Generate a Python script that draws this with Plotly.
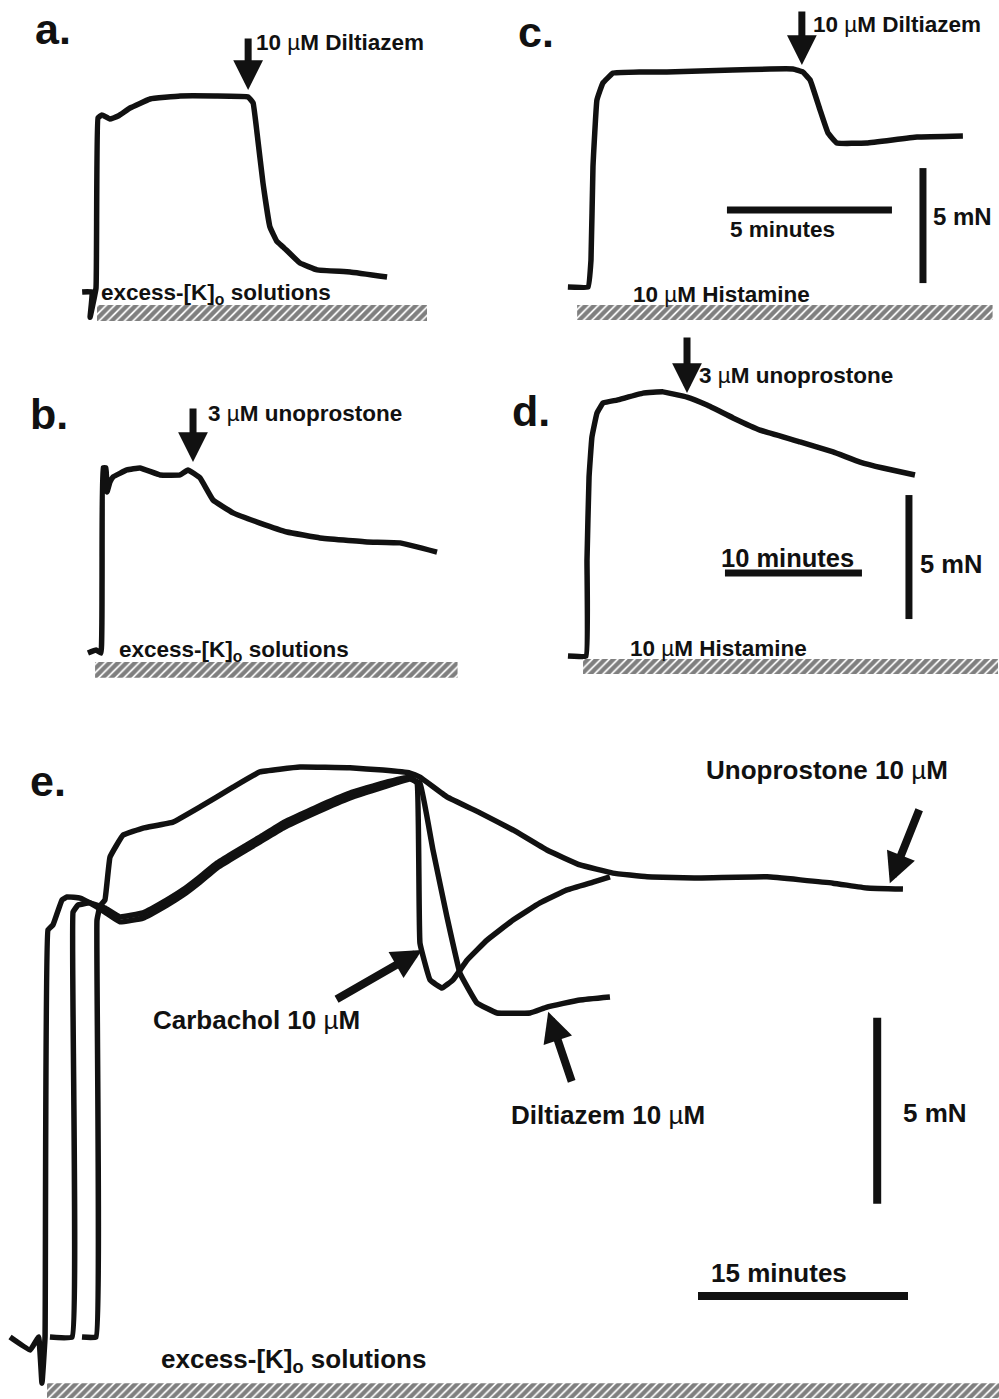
import plotly.graph_objects as go

W, H = 999, 1399

# ---------------- data (time in minutes, tension in mN) ----------------
# panel a: excess-[K]o contraction, 10 uM diltiazem
a_time = [-0.45, -0.15, -0.21, -0.03, 0.03, 0.15, 0.39, 0.64, 1.0, 1.61, 2.52, 3.58,
          4.58, 4.73, 4.85, 5.03, 5.24, 5.45, 5.64, 6.15, 6.67, 7.67, 8.79]
a_tension = [0, 0, -1.1, 0.17, 7.57, 7.7, 7.52, 7.65, 8.0, 8.39, 8.52, 8.52,
             8.48, 8.22, 6.91, 4.74, 2.83, 2.2, 1.96, 1.26, 0.96, 0.87, 0.65]
a_drug = (4.58, 8.78)
a_exposure = (0.0, 10.0)

# panel b: excess-[K]o contraction, 3 uM unoprostone
b_time = [-0.88, -0.29, 0.07, 0.22, 0.44, 0.51, 0.73, 0.95, 1.97, 2.92, 4.38, 5.84,
          6.42, 7.30, 8.25, 9.71, 11.68, 13.65, 16.06, 19.49, 21.9, 24.6]
b_tension = [0, 0.12, 0, 7.46, 7.46, 6.49, 6.9, 7.1, 7.38, 7.46, 7.18, 7.18,
             7.38, 7.06, 6.17, 5.65, 5.24, 4.88, 4.64, 4.48, 4.44, 4.07]
b_drug = (6.79, 7.7)
b_exposure = (-0.36, 26.1)

# panel c: 10 uM histamine contraction, 10 uM diltiazem
c_time = [-0.67, -0.06, 0.03, 0.09, 0.21, 0.39, 0.70, 1.52, 2.33, 3.33, 4.33, 5.45,
          6.15, 6.45, 6.67, 6.97, 7.21, 7.48, 8.39, 9.91, 11.3]
c_tension = [0, 0, 1.17, 5.22, 8.13, 8.87, 9.30, 9.35, 9.35, 9.39, 9.43, 9.48,
             9.48, 9.35, 9.0, 7.7, 6.70, 6.26, 6.26, 6.52, 6.57]
c_drug = (6.42, 9.65)
c_exposure = (-0.39, 12.2)

# panel d: 10 uM histamine contraction, 3 uM unoprostone
d_time = [-1.39, -0.07, 0.0, 0.15, 0.36, 0.73, 1.17, 2.19, 4.09, 5.55, 7.30, 8.76,
          10.66, 12.63, 15.55, 17.96, 19.93, 21.6, 23.94]
d_tension = [0, 0, 3.87, 7.22, 8.83, 9.80, 10.2, 10.32, 10.6, 10.65, 10.44, 10.12,
             9.6, 9.11, 8.63, 8.23, 7.82, 7.58, 7.30]
d_drug = (7.3, 10.6)
d_exposure = (-0.29, 30.0)

# panel e: three excess-[K]o contractions superimposed
e_unoprostone_time = [2.5, 3.5, 3.57, 3.79, 4.14, 4.5, 5.43, 6.86, 9.0, 10.93, 13.29,
                      15.21, 18.07, 21.64, 24.0, 25.93, 26.64, 28.57, 30.93, 33.29,
                      35.71, 38.07, 40.43, 42.86, 46.64, 51.43, 56.14, 58.57, 61.14]
e_unoprostone_tension = [0, 0, 11.2, 11.59, 11.75, 12.9, 13.49, 13.68, 13.84, 14.25,
                         14.78, 15.19, 15.32, 15.30, 15.24, 15.16, 15.05, 14.52, 14.09,
                         13.63, 13.09, 12.69, 12.47, 12.37, 12.34, 12.37, 12.2, 12.07,
                         12.04]
e_carbachol_time = [0.21, 1.79, 1.86, 2.21, 3.07, 4.14, 5.21, 6.86, 8.57, 9.71, 10.93,
                    12.14, 13.29, 15.21, 16.86, 19.29, 21.64, 24.0, 25.93, 26.43,
                    26.64, 27.36, 28.21, 29.0, 30.0, 31.43, 33.29, 35.21, 37.14, 39.0,
                    40.21]
e_carbachol_tension = [0, 0, 11.42, 11.61, 11.67, 11.53, 11.29, 11.4, 11.75, 12.02,
                       12.37, 12.74, 13.01, 13.44, 13.82, 14.25, 14.62, 14.89, 15.05,
                       14.89, 10.59, 9.60, 9.38, 9.6, 10.13, 10.67, 11.21, 11.67,
                       12.02, 12.23, 12.37]
e_diltiazem_time = [-2.64, -1.2, -0.6, -0.36, -0.14, 0.07, 0.43, 1.07, 1.43, 2.36,
                    3.07, 4.14, 5.21, 6.86, 8.57, 9.71, 10.93, 12.14, 13.29, 15.21,
                    16.86, 19.29, 21.64, 24.0, 25.93, 26.64, 27.57, 28.57, 29.5, 30.71,
                    32.14, 34.5, 35.71, 38.07, 40.21]
e_diltiazem_tension = [0, -0.35, 0, -1.24, 0, 10.94, 11.08, 11.75, 11.83, 11.8, 11.67,
                       11.42, 11.16, 11.26, 11.61, 11.88, 12.23, 12.61, 12.88, 13.31,
                       13.68, 14.11, 14.49, 14.78, 15.0, 14.89, 13.09, 11.29, 9.78,
                       8.98, 8.71, 8.71, 8.87, 9.06, 9.14]
e_unoprostone_drug = (60.2, 12.2)
e_carbachol_drug = (26.79, 10.4)
e_diltiazem_drug = (35.8, 8.74)
e_exposure = (0.0, 68.3)

scale_minutes = {"c": 5, "d": 10, "e": 15}
scale_mN = {"c": 5, "d": 5, "e": 5}

# ---------------- panel geometry (pixel origin and px per unit) ----------------
geom = {
    "a": dict(x0=97, y0=292, sx=33, sy=23),
    "b": dict(x0=100, y0=653, sx=13.7, sy=24.8),
    "c": dict(x0=590, y0=287, sx=33, sy=23),
    "d": dict(x0=587, y0=656, sx=13.7, sy=24.8),
    "e": dict(x0=47, y0=1337, sx=14, sy=37.2),
}
order = ["a", "b", "c", "d", "e"]
axid = {p: ("" if i == 0 else str(i + 1)) for i, p in enumerate(order)}

fig = go.Figure()
layout_axes = {}
for p in order:
    g = geom[p]
    i = axid[p]
    layout_axes["xaxis" + i] = dict(domain=[0, 1], anchor="y" + i, visible=False,
                                    range=[-g["x0"] / g["sx"], (W - g["x0"]) / g["sx"]],
                                    fixedrange=True)
    layout_axes["yaxis" + i] = dict(domain=[0, 1], anchor="x" + i, visible=False,
                                    range=[(g["y0"] - H) / g["sy"], g["y0"] / g["sy"]],
                                    fixedrange=True)


def xr(p):
    return "x" + axid[p]


def yr(p):
    return "y" + axid[p]


TRACE_W = 5.5


def add_trace(p, t, f):
    fig.add_trace(go.Scatter(x=t, y=f, mode="lines", xaxis=xr(p), yaxis=yr(p),
                             line=dict(color="#111", width=TRACE_W, shape="spline",
                                       smoothing=0.25),
                             hoverinfo="skip", showlegend=False))


def add_bar(p, span, f_top, f_bot):
    t0, t1 = span
    fig.add_trace(go.Scatter(x=[t0, t1, t1, t0, t0], y=[f_top, f_top, f_bot, f_bot, f_top],
                             mode="lines", fill="toself", xaxis=xr(p), yaxis=yr(p),
                             line=dict(width=0, color="rgba(0,0,0,0)"),
                             fillcolor="white",
                             fillpattern=dict(shape="/", fgcolor="black", bgcolor="white",
                                              size=6, solidity=0.7),
                             hoverinfo="skip", showlegend=False))


def add_seg(p, t, f, width=7):
    fig.add_trace(go.Scatter(x=t, y=f, mode="lines", xaxis=xr(p), yaxis=yr(p),
                             line=dict(color="#111", width=width),
                             hoverinfo="skip", showlegend=False))


add_trace("a", a_time, a_tension)
add_trace("b", b_time, b_tension)
add_trace("c", c_time, c_tension)
add_trace("d", d_time, d_tension)
add_trace("e", e_diltiazem_time, e_diltiazem_tension)
add_trace("e", e_carbachol_time, e_carbachol_tension)
add_trace("e", e_unoprostone_time, e_unoprostone_tension)

add_bar("a", a_exposure, -0.57, -1.26)
add_bar("b", b_exposure, -0.36, -1.0)
add_bar("c", c_exposure, -0.78, -1.43)
add_bar("d", d_exposure, -0.12, -0.73)
add_bar("e", e_exposure, -1.24, -1.64)

# scale bars
add_seg("c", [4.15, 4.15 + scale_minutes["c"]], [3.35, 3.35])
add_seg("c", [10.09, 10.09], [0.17, 0.17 + scale_mN["c"]])
add_seg("d", [10.07, 10.07 + scale_minutes["d"]], [3.35, 3.35])
add_seg("d", [23.5, 23.5], [1.49, 1.49 + scale_mN["d"]])
add_seg("e", [46.5, 46.5 + scale_minutes["e"]], [1.1, 1.1], width=8)
add_seg("e", [59.3, 59.3], [3.58, 3.58 + scale_mN["e"]], width=8)

annotations = []


def arrow(p, tip, ax, ay, width=7, size=0.85):
    annotations.append(dict(x=tip[0], y=tip[1], xref=xr(p), yref=yr(p), text="",
                            showarrow=True, ax=ax, ay=ay, arrowhead=2, arrowsize=size,
                            arrowwidth=width, arrowcolor="#111", standoff=0))


arrow("a", a_drug, 0, -53)
arrow("b", b_drug, 0, -55)
arrow("c", c_drug, 0, -55)
arrow("d", d_drug, 0, -57)
arrow("e", e_unoprostone_drug, 30, -75, width=8, size=0.75)
arrow("e", e_carbachol_drug, -87, 50, width=8, size=0.75)
arrow("e", e_diltiazem_drug, 24, 71, width=8, size=0.75)

FONT = "Liberation Sans, Arial, sans-serif"
MU = "µ"


def label(px, py, text, size):
    annotations.append(dict(x=px / W, y=1 - py / H, xref="paper", yref="paper",
                            text=text, showarrow=False, xanchor="left", yanchor="middle",
                            font=dict(family=FONT, size=size, color="#111")))


small = 22.5
big = 25.5
letter = 43

label(33, 29, "<b>a.</b>", letter)
label(28, 414, "<b>b.</b>", letter)
label(516, 32, "<b>c.</b>", letter)
label(510, 411, "<b>d.</b>", letter)
label(28, 781, "<b>e.</b>", letter)

label(254, 42, "<b>10 </b>" + MU + "<b>M Diltiazem</b>", small)
label(811, 25, "<b>10 </b>" + MU + "<b>M Diltiazem</b>", small)
label(206, 413, "<b>3 </b>" + MU + "<b>M unoprostone</b>", small)
label(697, 375, "<b>3 </b>" + MU + "<b>M unoprostone</b>", small)
label(99, 294, "<b>excess-[K]<sub>o</sub> solutions</b>", small)
label(117, 651, "<b>excess-[K]<sub>o</sub> solutions</b>", small)
label(631, 295, "<b>10 </b>" + MU + "<b>M Histamine</b>", small)
label(628, 648, "<b>10 </b>" + MU + "<b>M Histamine</b>", small)
label(728, 230, "<b>5 minutes</b>", small)
label(931, 216, "<b>5 mN</b>", 24)
label(719, 558, "<b>10 minutes</b>", big)
label(918, 564, "<b>5 mN</b>", big)

label(704, 770, "<b>Unoprostone 10 </b>" + MU + "<b>M</b>", 26)
label(151, 1020, "<b>Carbachol 10 </b>" + MU + "<b>M</b>", 26)
label(509, 1115, "<b>Diltiazem 10 </b>" + MU + "<b>M</b>", 26)
label(901, 1113, "<b>5 mN</b>", 26)
label(709, 1273, "<b>15 minutes</b>", 26)
label(159, 1360, "<b>excess-[K]<sub>o</sub> solutions</b>", 26)

fig.update_layout(width=W, height=H, margin=dict(l=0, r=0, t=0, b=0),
                  paper_bgcolor="white", plot_bgcolor="rgba(0,0,0,0)",
                  showlegend=False, annotations=annotations, **layout_axes)

fig.write_html("out.html", config={"displayModeBar": False},
               post_script="document.body.style.margin='0';document.body.style.padding='0';")
